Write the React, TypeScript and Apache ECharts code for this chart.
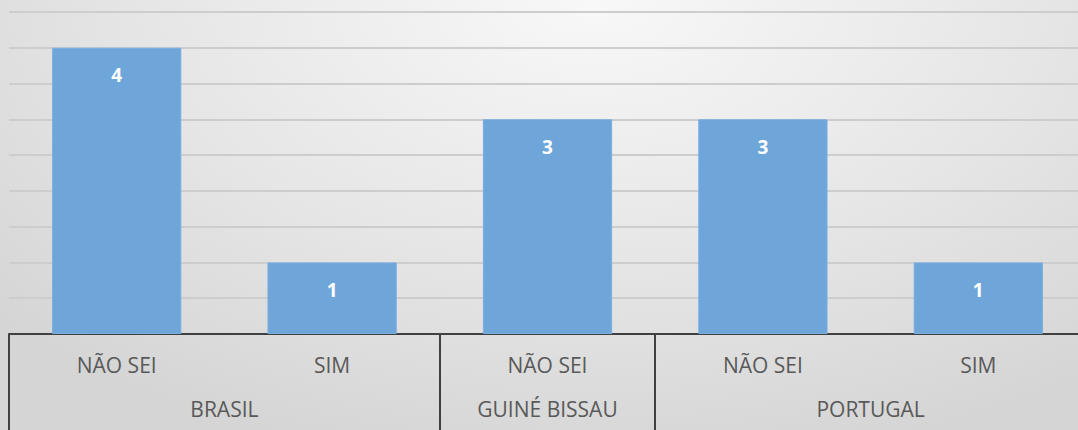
import React, { useEffect, useRef } from "react";
import * as echarts from "echarts";

const groups = ["BRASIL", "GUINÉ BISSAU", "PORTUGAL"];
const groupSpans = [2, 1, 2];
const answers = ["NÃO SEI", "SIM", "NÃO SEI", "NÃO SEI", "SIM"];
const counts = [4, 1, 3, 3, 1];
const yMin = 0;
const yMax = 4.5;
const yStep = 0.5;

// Build a half-step axis (boundaryGap false) for group labels and separators
const groupAxisData: string[] = new Array(answers.length * 2 + 1).fill("");
const separatorIdx = new Set<number>();
{
  let b = 0;
  groups.forEach((g, i) => {
    separatorIdx.add(2 * b);
    groupAxisData[2 * b + groupSpans[i]] = g;
    b += groupSpans[i];
  });
  separatorIdx.add(2 * b);
}

const FONT = "'Open Sans', 'Liberation Sans', sans-serif";

export default function App() {
  const ref = useRef<HTMLDivElement>(null);
  useEffect(() => {
    if (!ref.current) return;
    const chart = echarts.init(ref.current, undefined, { renderer: "svg" });
    chart.setOption({
      animation: false,
      backgroundColor: "transparent",
      grid: { left: 9, top: 12, right: 4, bottom: 96, containLabel: false },
      xAxis: [
        {
          type: "category",
          data: answers,
          position: "bottom",
          axisLine: { show: true, lineStyle: { color: "#404040", width: 2 } },
          axisTick: { show: false },
          axisLabel: {
            interval: 0,
            margin: 20,
            color: "#595959",
            fontSize: 21,
            fontFamily: FONT,
          },
          splitLine: { show: false },
        },
        {
          type: "category",
          data: groupAxisData,
          boundaryGap: false,
          position: "bottom",
          axisLine: { show: false },
          axisTick: {
            show: true,
            length: 96,
            interval: (i: number) => separatorIdx.has(i),
            lineStyle: { color: "#404040", width: 2 },
          },
          axisLabel: {
            interval: 0,
            margin: 64,
            color: "#595959",
            fontSize: 21,
            fontFamily: FONT,
          },
          splitLine: { show: false },
        },
      ],
      yAxis: {
        type: "value",
        min: yMin,
        max: yMax,
        interval: yStep,
        axisLabel: { show: false },
        axisLine: { show: false },
        axisTick: { show: false },
        splitLine: { show: true, lineStyle: { color: "#cdcdcd", width: 2 } },
      },
      series: [
        {
          type: "bar",
          xAxisIndex: 0,
          data: counts,
          barWidth: "60%",
          itemStyle: { color: "#6ea6da", borderColor: "#79aee0", borderWidth: 1 },
          label: {
            show: true,
            position: "insideTop",
            distance: 18,
            color: "#ffffff",
            fontWeight: "bold",
            fontSize: 19,
            fontFamily: FONT,
          },
        },
      ],
    });
    return () => chart.dispose();
  }, []);
  return (
    <div
      style={{
        position: "absolute",
        left: 0,
        top: 0,
        width: 1078,
        height: 430,
        overflow: "hidden",
        background:
          "radial-gradient(ellipse 75% 110% at 55% 0%, #f8f8f8 0%, #e6e6e6 55%, #d5d5d5 100%)",
      }}
    >
      <div ref={ref} style={{ width: 1090, height: 430 }} />
    </div>
  );
}
